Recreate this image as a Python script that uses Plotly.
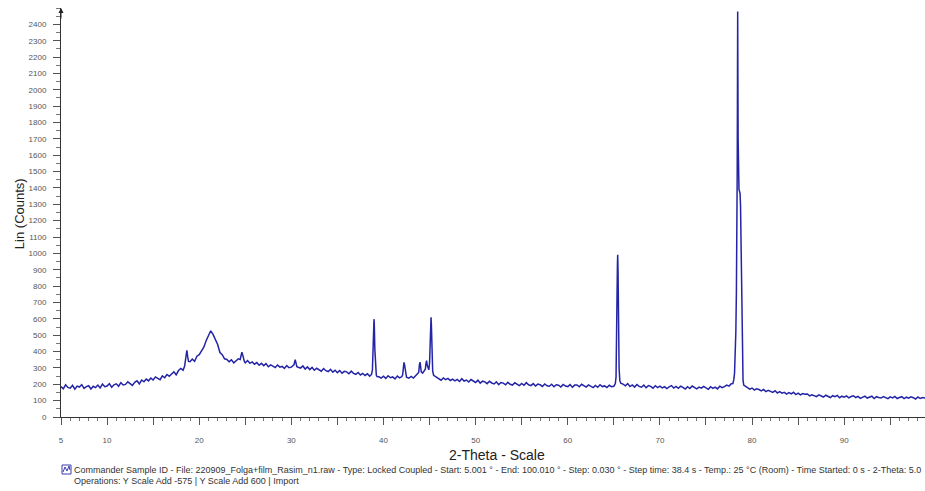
import plotly.graph_objects as go

# ---------------- data ----------------
scan_start = 5.0      # degrees 2-theta of first background sample
scan_step = 0.25      # spacing of background samples (degrees)

# background counts, 4 samples per degree (d.00, d.25, d.50, d.75), 5.00 .. 99.00
background_counts = [
    186, 172, 197, 181,   # 5
    176, 194, 170, 189,   # 6
    183, 198, 175, 186,   # 7
    191, 171, 188, 180,   # 8
    195, 178, 201, 185,   # 9
    189, 204, 182, 197,   # 10
    203, 188, 210, 196,   # 11
    199, 215, 204, 193,   # 12
    212, 222, 203, 226,   # 13
    215, 232, 221, 238,   # 14
    226, 245, 236, 228,   # 15
    251, 240, 260, 249,   # 16
    263, 276, 258, 284,   # 17
    297, 286, 320, 350,   # 18
    338, 354, 341, 372,   # 19
    381, 403, 427, 466,   # 20
    496, 527, 505, 474,   # 21
    443, 394, 381, 356,   # 22
    352, 338, 349, 331,   # 23
    344, 356, 360, 352,   # 24
    331, 345, 328, 337,   # 25
    323, 333, 316, 328,   # 26
    314, 326, 307, 319,   # 27
    311, 302, 318, 305,   # 28
    309, 297, 314, 301,   # 29
    305, 318, 322, 304,   # 30
    299, 312, 293, 306,   # 31
    290, 303, 286, 298,   # 32
    289, 280, 296, 283,   # 33
    278, 291, 274, 286,   # 34
    271, 284, 268, 279,   # 35
    276, 264, 280, 267,   # 36
    261, 272, 257, 266,   # 37
    254, 264, 250, 262,   # 38
    560, 270, 246, 238,   # 39
    249, 236, 252, 240,   # 40
    245, 233, 250, 239,   # 41
    247, 310, 243, 237,   # 42
    248, 238, 253, 262,   # 43
    318, 268, 284, 300,   # 44
    600, 400, 253, 240,   # 45
    233, 225, 239, 228,   # 46
    236, 223, 231, 221,   # 47
    230, 217, 234, 220,   # 48
    226, 214, 229, 218,   # 49
    211, 225, 207, 219,   # 50
    215, 204, 218, 208,   # 51
    202, 215, 198, 211,   # 52
    207, 197, 212, 200,   # 53
    195, 209, 200, 192,   # 54
    205, 194, 210, 197,   # 55
    192, 204, 189, 201,   # 56
    197, 187, 202, 191,   # 57
    188, 200, 185, 197,   # 58
    194, 183, 199, 189,   # 59
    186, 198, 182, 195,   # 60
    196, 185, 200, 189,   # 61
    183, 196, 188, 180,   # 62
    193, 182, 197, 186,   # 63
    190, 180, 194, 185,   # 64
    188, 200, 600, 207,   # 65
    201, 191, 204, 186,   # 66
    196, 183, 199, 187,   # 67
    182, 195, 179, 192,   # 68
    187, 176, 191, 180,   # 69
    189, 178, 185, 174,   # 70
    184, 192, 177, 187,   # 71
    175, 188, 181, 171,   # 72
    185, 174, 189, 178,   # 73
    172, 183, 176, 187,   # 74
    178, 169, 185, 175,   # 75
    183, 172, 188, 179,   # 76
    186, 195, 189, 204,   # 77
    220, 500, 1500, 1300, # 78
    240, 187, 179, 170,   # 79
    177, 165, 173, 168,   # 80
    160, 169, 155, 163,   # 81
    158, 150, 161, 147,   # 82
    155, 146, 151, 140,   # 83
    149, 142, 151, 137,   # 84
    146, 135, 143, 139,   # 85
    141, 129, 136, 131,   # 86
    124, 135, 128, 122,   # 87
    133, 126, 119, 130,   # 88
    124, 132, 118, 127,   # 89
    121, 129, 117, 125,   # 90
    130, 119, 126, 114,   # 91
    123, 128, 116, 121,   # 92
    127, 113, 124, 119,   # 93
    116, 125, 120, 112,   # 94
    123, 117, 126, 113,   # 95
    119, 124, 112, 121,   # 96
    115, 123, 118, 110,   # 97
    122, 113, 119, 116,   # 98
    118,                  # 99
]

# densely read peak profiles (2-theta, counts)
peak_18_theta = [18.42, 18.52, 18.60, 18.66, 18.74, 18.84]
peak_18_counts = [312, 355, 398, 408, 372, 340]

peak_24_theta = [24.45, 24.55, 24.63, 24.70, 24.80, 24.90]
peak_24_counts = [352, 371, 396, 384, 355, 340]

peak_30_theta = [30.28, 30.36, 30.42, 30.50, 30.60]
peak_30_counts = [316, 338, 350, 331, 308]

peak_39_theta = [38.70, 38.80, 38.88, 38.94, 38.97, 39.00, 39.06, 39.14, 39.22, 39.30]
peak_39_counts = [260, 288, 420, 565, 598, 572, 415, 288, 256, 247]

peak_42_theta = [42.08, 42.16, 42.22, 42.28, 42.36, 42.44]
peak_42_counts = [258, 302, 334, 322, 278, 250]

peak_44a_theta = [43.82, 43.90, 43.96, 44.02, 44.10]
peak_44a_counts = [272, 318, 336, 312, 276]

peak_44b_theta = [44.54, 44.61, 44.68, 44.74, 44.82]
peak_44b_counts = [292, 328, 345, 318, 296]

peak_45_theta = [44.92, 45.00, 45.07, 45.12, 45.16, 45.20, 45.26, 45.34, 45.44]
peak_45_counts = [288, 330, 460, 575, 610, 560, 400, 280, 255]

peak_65_theta = [65.16, 65.24, 65.30, 65.35, 65.39, 65.42, 65.46, 65.51, 65.57, 65.65]
peak_65_counts = [204, 245, 420, 760, 935, 992, 880, 560, 300, 222]

peak_78_theta = [77.92, 78.02, 78.10, 78.18, 78.24, 78.30, 78.35, 78.39, 78.42, 78.44,
                 78.46, 78.49, 78.53, 78.58, 78.64, 78.70, 78.75, 78.80, 78.85, 78.89,
                 78.93, 78.97, 79.02, 79.10]
peak_78_counts = [205, 228, 270, 380, 520, 760, 1080, 1500, 2050, 2478,
                  2150, 1700, 1460, 1392, 1380, 1365, 1290, 1120, 930, 700,
                  450, 300, 225, 195]

count_ticks = [0, 100, 200, 300, 400, 500, 600, 700, 800, 900, 1000, 1100, 1200,
               1300, 1400, 1500, 1600, 1700, 1800, 1900, 2000, 2100, 2200, 2300, 2400]
theta_ticks = [5, 10, 15, 20, 25, 30, 35, 40, 45, 50, 55, 60, 65, 70, 75, 80, 85, 90, 95]
theta_tick_text = ["5", "10", "", "20", "", "30", "", "40", "", "50", "", "60", "",
                   "70", "", "80", "", "90", ""]

footer_line1 = ("Commander Sample ID - File: 220909_Folga+film_Rasim_n1.raw - Type: Locked Coupled - "
                "Start: 5.001 \u00b0 - End: 100.010 \u00b0 - Step: 0.030 \u00b0 - Step time: 38.4 s - "
                "Temp.: 25 \u00b0C (Room) - Time Started: 0 s - 2-Theta: 5.0")
footer_line2 = "Operations: Y Scale Add -575 | Y Scale Add 600 | Import"

# ---------------- assemble the scan ----------------
segments = [
    (peak_18_theta, peak_18_counts), (peak_24_theta, peak_24_counts),
    (peak_30_theta, peak_30_counts), (peak_39_theta, peak_39_counts),
    (peak_42_theta, peak_42_counts), (peak_44a_theta, peak_44a_counts),
    (peak_44b_theta, peak_44b_counts), (peak_45_theta, peak_45_counts),
    (peak_65_theta, peak_65_counts), (peak_78_theta, peak_78_counts),
]
windows = [(min(t), max(t)) for t, _ in segments]
points = []
for i, c in enumerate(background_counts):
    t = round(scan_start + i * scan_step, 4)
    if any(lo <= t <= hi for lo, hi in windows):
        continue
    points.append((t, c))
for t_list, c_list in segments:
    points.extend(zip(t_list, c_list))
points.sort()
two_theta = [p[0] for p in points]
counts = [p[1] for p in points]

FONT = "Liberation Sans, Arial, sans-serif"

fig = go.Figure()
fig.add_trace(go.Scatter(
    x=two_theta, y=counts, mode="lines",
    line=dict(color="#2424a6", width=1.5),
    hoverinfo="skip", showlegend=False,
))

fig.update_layout(
    width=925, height=491,
    margin=dict(l=61, r=0, t=8, b=74),
    paper_bgcolor="white", plot_bgcolor="white",
    font=dict(family=FONT, color="#333"),
    showlegend=False,
    xaxis=dict(
        range=[5, 98.77], showgrid=False, zeroline=False,
        showline=True, linecolor="#333", linewidth=1,
        tickmode="array", tickvals=theta_ticks, ticktext=theta_tick_text,
        ticks="outside", ticklen=7, tickcolor="#555", tickwidth=1,
        minor=dict(dtick=1, tick0=5, ticks="outside", ticklen=3, tickcolor="#777", showgrid=False),
        tickfont=dict(size=8, color="#555", family=FONT),
        ticklabelstandoff=8,
    ),
    yaxis=dict(
        range=[0, 2500], showgrid=False, zeroline=False,
        showline=True, linecolor="#333", linewidth=1,
        tickmode="array", tickvals=count_ticks,
        ticks="outside", ticklen=7, tickcolor="#555", tickwidth=1,
        minor=dict(dtick=50, tick0=0, ticks="outside", ticklen=4, tickcolor="#777", showgrid=False),
        tickfont=dict(size=8, color="#555", family=FONT),
        ticklabelstandoff=5,
    ),
)

annotations = [
    # y-axis arrow head
    dict(x=0, y=1, xref="paper", yref="paper", ax=0, ay=12, axref="pixel", ayref="pixel",
         showarrow=True, arrowhead=2, arrowsize=1, arrowwidth=1, arrowcolor="#222", text=""),
    dict(text="Lin (Counts)", x=0, y=0.496, xref="paper", yref="paper", xshift=-42,
         textangle=-90, showarrow=False, font=dict(size=13, color="#222", family=FONT),
         xanchor="center", yanchor="middle"),
    dict(text="2-Theta - Scale", x=0.5046, y=0, xref="paper", yref="paper", yshift=-38,
         showarrow=False, font=dict(size=14, color="#222", family=FONT),
         xanchor="center", yanchor="middle"),
    dict(text=footer_line1, x=0, y=0, xref="paper", yref="paper", xshift=11, yshift=-53,
         showarrow=False, font=dict(size=9, color="#333", family=FONT),
         xanchor="left", yanchor="middle"),
    dict(text=footer_line2, x=0, y=0, xref="paper", yref="paper", xshift=11, yshift=-64,
         showarrow=False, font=dict(size=9, color="#333", family=FONT),
         xanchor="left", yanchor="middle"),
]
fig.update_layout(annotations=annotations)

# small legend icon before the footer text
fig.add_shape(type="rect", xref="paper", yref="paper", xsizemode="pixel", ysizemode="pixel",
              xanchor=0, yanchor=0, x0=1, x1=10, y0=-57, y1=-48,
              line=dict(color="#3a3ab0", width=1), fillcolor="rgba(0,0,0,0)")
fig.add_shape(type="path", xref="paper", yref="paper", xsizemode="pixel", ysizemode="pixel",
              xanchor=0, yanchor=0, path="M2,-55 L4,-50 L6,-54 L8,-49 L9,-53",
              line=dict(color="#3a3ab0", width=1))

fig.write_html("out.html")
